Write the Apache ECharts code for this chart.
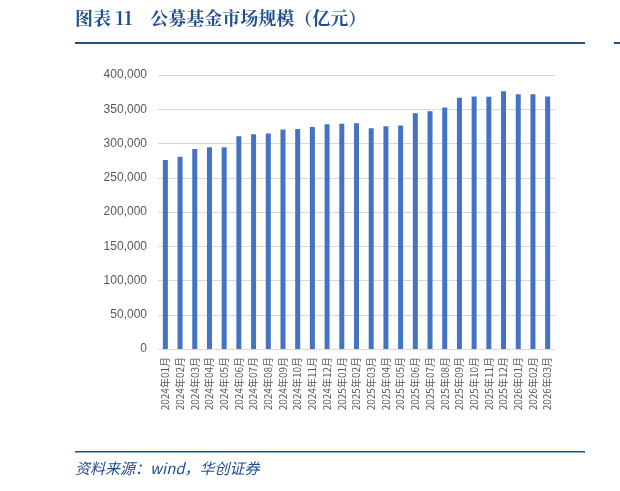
<!DOCTYPE html><html><head><meta charset="utf-8"><script src="https://cdn.jsdelivr.net/npm/echarts@6/dist/echarts.min.js"></script>
<style>body{margin:0}#c{width:620px;height:491px}</style></head><body><div id="c"></div><script>
const categories=[];
for(const [y,n] of [[2024,12],[2025,12],[2026,3]])for(let m=1;m<=n;m++)categories.push(y+'年'+String(m).padStart(2,'0')+'月');
const values=[276000,280500,292000,294600,294600,310700,313600,314600,320500,321000,324000,328000,328700,329700,322400,325300,326300,344300,347200,352600,366700,368600,368200,376400,372000,372000,368600];
const c=echarts.init(document.getElementById('c'));
c.setOption({animation:false,
graphic:[
{type:'text',left:75,top:9,style:{text:'图表 11    公募基金市场规模（亿元）',font:'bold 18px "Noto Serif CJK SC","Noto Sans CJK SC",serif',fill:'#1f4e8c'}},
{type:'rect',shape:{x:75,y:42,width:510,height:2},style:{fill:'#1f4e8c'}},
{type:'rect',shape:{x:614,y:42,width:10,height:2},style:{fill:'#1f4e8c'}},
{type:'rect',shape:{x:75,y:451,width:510,height:1.5},style:{fill:'#1f4e8c'}},
{type:'text',left:75,top:461,style:{text:'资料来源：wind，华创证券',font:'italic 15px "Noto Sans CJK SC",serif',fill:'#1f4e8c'}}
],
grid:{left:158,right:65,top:75,bottom:142},
xAxis:{type:'category',data:categories,axisTick:{show:false},axisLine:{lineStyle:{color:'#d9d9d9'}},
 axisLabel:{rotate:90,interval:0,fontSize:10,color:'#595959',fontFamily:'Noto Sans CJK SC'}},
yAxis:{type:'value',min:0,max:400000,interval:50000,axisLabel:{fontSize:12,color:'#595959',margin:11,formatter:v=>v.toLocaleString('en-US')},
 splitLine:{lineStyle:{color:'#d9d9d9'}}},
series:[{type:'bar',data:values,barWidth:5,itemStyle:{color:'#4472c4'}}]});
</script></body></html>
